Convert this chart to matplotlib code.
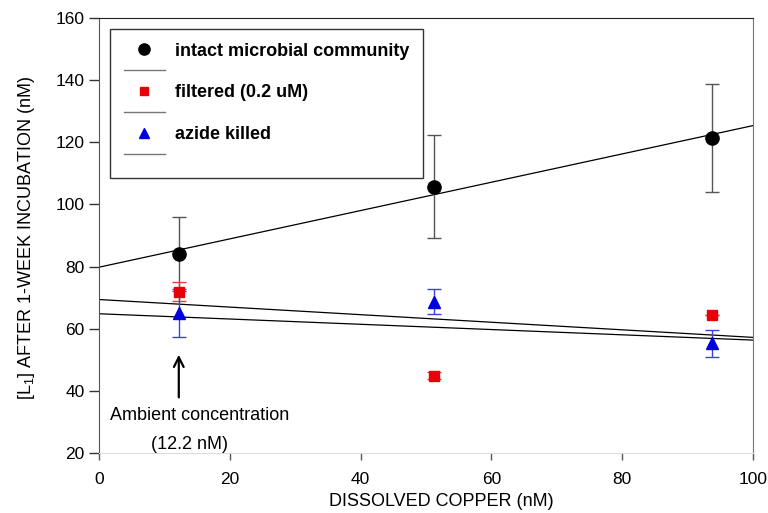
import numpy as np
import matplotlib.pyplot as plt
from matplotlib.lines import Line2D

plt.rcParams['font.family'] = ['Liberation Sans', 'DejaVu Sans']
plt.rcParams['mathtext.default'] = 'regular'

# Ligand concentration after one week vs. added copper
copper = [12.2, 51.2, 93.8]

intact = [84.0, 105.7, 121.3]
intact_err = [11.9, 16.5, 17.3]

filtered = [71.9, 44.9, 64.3]
filtered_err = [3.0, 1.0, 0.0]

azide = [65.0, 68.7, 55.3]
azide_err = [7.8, 4.0, 4.3]

series = [
    ('intact microbial community', intact, intact_err, 'o', 'black', '#555555', 9.5),
    ('filtered (0.2 uM)', filtered, filtered_err, 's', '#e8000b', '#e84040', 7),
    ('azide killed', azide, azide_err, '^', '#0000e0', '#4040e0', 8.5),
]

fig = plt.figure(figsize=(7.68, 5.13), dpi=100)
ax = fig.add_axes([0.1289, 0.117, 0.8516, 0.848])

xfit = np.array([0, 100])
handles, labels = [], []
for name, y, err, mk, col, ecol, ms in series:
    # linear regression through the three points
    slope, icpt = np.polyfit(copper, y, 1)
    ax.plot(xfit, icpt + slope * xfit, color='black', lw=0.9, zorder=2)
    ax.errorbar(copper, y, yerr=err, fmt='none', ecolor=ecol, elinewidth=1,
                capsize=4.7, capthick=1, zorder=3)
    ax.plot(copper, y, linestyle='none', marker=mk, color=col, ms=ms, zorder=4)
    handles.append(Line2D([], [], linestyle='none', marker=mk, color=col, ms=ms * 0.85))
    labels.append(name)
    handles.append(Line2D([], [], color='#777777', lw=1))
    labels.append('')

leg = ax.legend(handles, labels, loc='upper left', bbox_to_anchor=(0.0168, 0.9747),
                borderaxespad=0, fancybox=False, edgecolor='#333333', framealpha=1,
                prop={'weight': 'bold', 'size': 13}, handlelength=2.3,
                labelspacing=0.22, borderpad=0.75, handletextpad=0.55)
leg.get_frame().set_linewidth(1)

# ambient copper marker
ax.annotate('', xy=(12.2, 52.5), xytext=(12.2, 37.0),
            arrowprops=dict(arrowstyle='->, head_length=0.7, head_width=0.35',
                            color='black', lw=1.6))
ax.text(15.4, 32.2, 'Ambient concentration', ha='center', va='center', fontsize=13)
ax.text(13.8, 22.8, '(12.2 nM)', ha='center', va='center', fontsize=13)

ax.set_xlim(0, 100)
ax.set_ylim(20, 160)
ax.set_xticks(np.arange(0, 101, 20))
ax.set_yticks(np.arange(20, 161, 20))
ax.tick_params(axis='y', direction='out', length=7, width=1, pad=3.5,
               labelsize=12.5, color='#333333')
ax.tick_params(axis='x', direction='out', length=5, width=1, pad=9,
               labelsize=12.5, color='#555555')
ax.set_xlabel('DISSOLVED COPPER (nM)', fontsize=13, labelpad=4)
ax.xaxis.label.set_x(0.523)
ax.set_ylabel('[L$_1$] AFTER 1-WEEK INCUBATION (nM)', fontsize=13)
ax.yaxis.set_label_coords(-0.095, 0.495)

ax.spines['top'].set_color('#222222')
ax.spines['left'].set_color('#555555')
ax.spines['right'].set_color('#777777')
ax.spines['bottom'].set_color('#dddddd')

fig.savefig('out.png', dpi=100)
